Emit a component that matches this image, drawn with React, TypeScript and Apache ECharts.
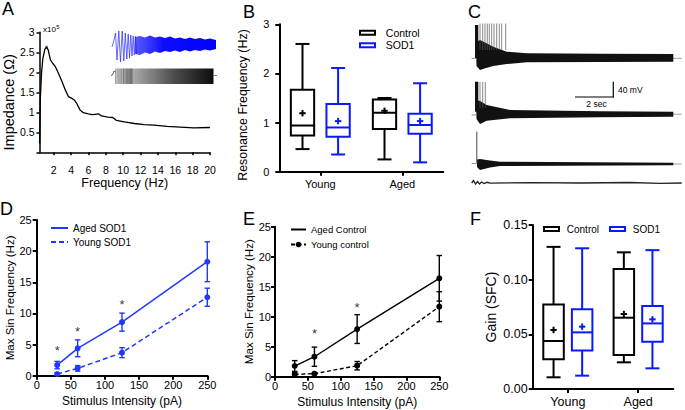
import React, { useEffect, useRef } from 'react';
import * as echarts from 'echarts';

const FONT = '"Liberation Sans", Arial, Helvetica, sans-serif';
const BLACK = '#000000';
const BLUE = '#0a1aff';
const BLUE_D = '#2038ff';

// ---------- Panel A : impedance profile (x10^5 ohm) ----------
const impedanceFreqHz = [0.37, 0.45, 0.6, 0.75, 0.98, 1.17, 1.36, 1.62, 1.89, 2.19, 2.55, 2.95, 3.33, 3.7, 4.08, 4.4, 4.65, 5.03, 5.41, 5.98, 6.4, 6.73, 7.2, 7.49, 8.25, 8.8, 9.2, 10.14, 11.28, 12.42, 13.55, 15.07, 16.58, 18.1, 19.99];
const impedanceValues = [0.22, 1.31, 2.0, 2.35, 2.58, 2.63, 2.56, 2.31, 2.22, 2.14, 1.97, 1.77, 1.56, 1.39, 1.35, 1.3, 1.22, 1.06, 0.99, 0.96, 0.94, 0.95, 0.96, 0.91, 0.88, 0.87, 0.8, 0.76, 0.72, 0.69, 0.68, 0.65, 0.63, 0.61, 0.62];
const impedancePeak = [[1.17, 2.63]];
const freqTicks = [2, 4, 6, 8, 10, 12, 14, 16, 18, 20];

// ---------- Panel B : resonance frequency (Hz) ----------
const groupCats = ['Young', 'Aged'];
// [min, q1, median, q3, max]
const resControlBox = [[0.46, 0.735, 0.94, 1.67, 2.6], [0.25, 0.87, 1.2, 1.47, 1.5]];
const resControlMean = [1.19, 1.24];
const resSod1Box = [[0.35, 0.71, 0.9, 1.38, 2.11], [0.19, 0.77, 0.95, 1.18, 1.8]];
const resSod1Mean = [1.03, 1.03];

// ---------- Panel D / E : max sin frequency (Hz) ----------
const stimulusPA = [30, 60, 125, 250];
const agedSod1Mean = [1.7, 4.4, 8.6, 18.3];
const agedSod1Err = [0.6, 1.35, 1.45, 3.2];
const youngSod1Mean = [0.27, 1.18, 3.7, 12.6];
const youngSod1Err = [0.2, 0.45, 0.8, 1.45];
const dStars = [[30, 4.66], [60, 7.7], [125, 12.06]];

const agedCtrlMean = [1.78, 3.33, 7.94, 16.4];
const agedCtrlErr = [0.9, 1.6, 2.4, 3.8];
const youngCtrlMean = [0.39, 0.5, 1.83, 11.67];
const youngCtrlErr = [0.3, 0.15, 0.7, 2.5];
const eStars = [[60, 7.8], [125, 12.1]];

// ---------- Panel F : gain (SFC) ----------
const gainControlBox = [[0.0107, 0.0271, 0.0439, 0.0774, 0.13], [0.0244, 0.0311, 0.0652, 0.1098, 0.125]];
const gainControlMean = [0.054, 0.0686];
const gainSod1Box = [[0.0122, 0.0351, 0.0518, 0.0729, 0.1287], [0.0189, 0.0433, 0.06, 0.0759, 0.127]];
const gainSod1Mean = [0.057, 0.0637];

const zip = (a: number[], b: number[]) => a.map((v, i) => [v, b[i]]);
const boxRows = (box: number[][], mean: number[]) => box.map((b, i) => [i, ...b, mean[i]]);
const errRows = (x: number[], m: number[], e: number[]) => x.map((v, i) => [v, m[i] - e[i], m[i] + e[i]]);

function boxItem(offset: number, boxW: number, capW: number, color: string) {
  return (_params: any, api: any) => {
    const i = api.value(0);
    const p = (k: number) => api.coord([i, api.value(k)]);
    const lo = p(1), q1 = p(2), md = p(3), q3 = p(4), hi = p(5), mn = p(6);
    const cx = lo[0] + offset;
    const st = { stroke: color, lineWidth: 2, fill: 'none' };
    const ln = (x1: number, y1: number, x2: number, y2: number) => ({ type: 'line', shape: { x1, y1, x2, y2 }, style: st });
    return {
      type: 'group',
      children: [
        ln(cx, hi[1], cx, q3[1]),
        ln(cx, q1[1], cx, lo[1]),
        ln(cx - capW / 2, hi[1], cx + capW / 2, hi[1]),
        ln(cx - capW / 2, lo[1], cx + capW / 2, lo[1]),
        { type: 'rect', shape: { x: cx - boxW / 2, y: q3[1], width: boxW, height: q1[1] - q3[1] }, style: st },
        ln(cx - boxW / 2, md[1], cx + boxW / 2, md[1]),
        ln(cx - 3.2, mn[1], cx + 3.2, mn[1]),
        ln(cx, mn[1] - 3.2, cx, mn[1] + 3.2),
      ],
    };
  };
}

function errItem(color: string, capW: number) {
  return (_params: any, api: any) => {
    const x = api.value(0);
    const a = api.coord([x, api.value(1)]);
    const b = api.coord([x, api.value(2)]);
    const st = { stroke: color, lineWidth: 1.4 };
    return {
      type: 'group',
      children: [
        { type: 'line', shape: { x1: a[0], y1: a[1], x2: b[0], y2: b[1] }, style: st },
        { type: 'line', shape: { x1: a[0] - capW / 2, y1: a[1], x2: a[0] + capW / 2, y2: a[1] }, style: st },
        { type: 'line', shape: { x1: b[0] - capW / 2, y1: b[1], x2: b[0] + capW / 2, y2: b[1] }, style: st },
      ],
    };
  };
}

function axis(extra: any, w: number, fs: number) {
  const base: any = {
    axisLine: { show: true, onZero: false, lineStyle: { color: BLACK, width: w } },
    axisTick: { show: true, length: 4, lineStyle: { color: BLACK, width: w } },
    axisLabel: { color: BLACK, fontSize: fs, fontFamily: FONT, showMinLabel: true, showMaxLabel: true },
    splitLine: { show: false },
    nameLocation: 'middle',
    nameTextStyle: { color: BLACK, fontFamily: FONT },
  };
  const out: any = { ...base, ...extra };
  for (const k of ['axisLine', 'axisTick', 'axisLabel', 'nameTextStyle']) {
    if (extra[k]) out[k] = { ...base[k], ...extra[k] };
  }
  return out;
}

function starSeries(data: number[][], xi: number) {
  return {
    type: 'scatter', xAxisIndex: xi, yAxisIndex: xi, data, symbol: 'circle', symbolSize: 1,
    itemStyle: { color: 'transparent' }, silent: true,
    label: { show: true, formatter: '*', position: 'inside', color: BLACK, fontSize: 13, fontFamily: FONT, offset: [0, 3.5] },
  };
}

function buildGraphics() {
  const g: any[] = [];
  const letter = (t: string, x: number, y: number) => g.push({ type: 'text', x, y, style: { text: t, fill: BLACK, fontSize: 18, fontFamily: FONT, verticalAlign: 'top' } });
  letter('A', 2, 0); letter('B', 243, 3); letter('C', 468, 3);
  letter('D', 0, 200); letter('E', 243, 210); letter('F', 470, 210);

  // x10^5 marker of panel A
  g.push({ type: 'text', x: 43, y: 29.8, style: { text: 'x10', fill: BLACK, fontSize: 8, fontFamily: FONT, verticalAlign: 'middle' } });
  g.push({ type: 'text', x: 56.3, y: 26.8, style: { text: '5', fill: BLACK, fontSize: 6, fontFamily: FONT, verticalAlign: 'middle' } });

  const line = (x1: number, y1: number, x2: number, y2: number, stroke: string, lw: number) =>
    g.push({ type: 'line', shape: { x1, y1, x2, y2 }, style: { stroke, lineWidth: lw } });

  // ---- Panel A inset: blue voltage response ----
  g.push({
    type: 'polyline', shape: { points: [[112, 47], [114, 40], [115.5, 33], [117, 60], [118.8, 31], [120.5, 62], [122.2, 31], [123.8, 61], [125.3, 33], [126.8, 59], [128.2, 34], [129.5, 58], [130.8, 35], [132, 56], [133.2, 36], [134.3, 55], [135.4, 36.5], [136.5, 54]] },
    style: { stroke: 'rgba(30,30,255,0.75)', lineWidth: 0.9, fill: 'none' },
  });
  g.push({
    type: 'polygon',
    shape: { points: [[135, 37], [140, 36], [145, 37.5], [150, 35.5], [155, 37.5], [160, 36.5], [165, 38], [170, 36.5], [175, 38.5], [180, 37.5], [185, 39], [190, 37.5], [195, 39], [200, 38], [205, 39.5], [210, 38.5], [216, 40],
      [216, 49], [210, 50.5], [205, 49.5], [200, 51], [195, 50], [190, 51.5], [185, 50], [180, 52], [175, 50.5], [170, 52], [165, 51], [160, 53], [155, 51.5], [150, 54], [145, 52.5], [140, 55], [135, 54]] },
    style: { fill: new echarts.graphic.LinearGradient(0, 0, 1, 0, [{ offset: 0, color: 'rgba(20,20,255,0.7)' }, { offset: 0.35, color: 'rgba(0,0,255,0.95)' }, { offset: 1, color: '#0000ff' }]) },
  });
  // ---- Panel A inset: black chirp stimulus ----
  g.push({
    type: 'rect', shape: { x: 115, y: 68.5, width: 98.5, height: 15.5 },
    style: { fill: new echarts.graphic.LinearGradient(0, 0, 1, 0, [{ offset: 0, color: 'rgba(0,0,0,0.12)' }, { offset: 0.2, color: 'rgba(0,0,0,0.35)' }, { offset: 0.6, color: 'rgba(0,0,0,0.7)' }, { offset: 1, color: 'rgba(0,0,0,0.95)' }]) },
  });
  [115.8, 118, 120, 121.8, 123.5, 125, 126.4, 127.7, 128.9, 130, 131, 132].forEach((x) => line(x, 68.5, x, 84, 'rgba(0,0,0,0.55)', 0.7));
  g.push({ type: 'polyline', shape: { points: [[111, 75.5], [112.5, 75], [114, 71], [115.5, 72]] }, style: { stroke: '#333', lineWidth: 0.8, fill: 'none' } });
  line(213.5, 75.5, 217, 75.5, '#555', 0.8);

  // ---- Panel C traces ----
  const env = (pts: number[][]) => g.push({ type: 'polygon', shape: { points: pts }, style: { fill: '#111' } });
  // trace 1
  line(471.7, 58.3, 476, 58.3, '#777', 0.8);
  line(673, 58.3, 681.7, 58.3, '#888', 0.8);
  env([[476, 42], [480, 40], [486, 43], [493.3, 46.7], [506.7, 51.7], [526.7, 53.3], [600, 53.7], [673.3, 54], [673.3, 61.7], [600, 62], [526.7, 62.3], [506.7, 64], [493.3, 66], [486, 68], [480, 70], [476.5, 66]]);
  g.push({ type: 'rect', shape: { x: 475, y: 25, width: 3.3, height: 33 }, style: { fill: '#111' } });
  [480, 482.7, 485, 487.3, 489.3, 491.7, 494, 496.7, 499.3, 501.7, 505.7].forEach((x) => line(x, 23.5, x, 50, '#555', 0.7));
  // trace 2
  line(471.7, 115, 476, 115, '#777', 0.8);
  line(673, 114.2, 681.7, 114.2, '#888', 0.8);
  env([[476, 100], [480, 101], [486.7, 105], [510, 110], [600, 111.3], [673.3, 111.7], [673.3, 116.7], [600, 117.3], [510, 118.3], [486.7, 120.7], [480, 124], [476.5, 119]]);
  g.push({ type: 'rect', shape: { x: 475, y: 81.7, width: 3.3, height: 30 }, style: { fill: '#111' } });
  [480, 482.7, 485.3].forEach((x) => line(x, 82, x, 108, '#555', 0.7));
  // trace 3
  line(471.7, 163.5, 476.5, 163.5, '#777', 0.8);
  line(673, 164, 681.7, 164, '#888', 0.8);
  env([[477, 159.5], [480, 159], [490, 160.5], [500, 161.7], [673.3, 162.7], [673.3, 165.3], [500, 166], [490, 167.5], [480, 170], [477, 167]]);
  line(476.8, 131.7, 476.8, 163, '#555', 1.1);
  // trace 4
  g.push({ type: 'polyline', shape: { points: [[471.7, 183], [473.5, 180.5], [475.5, 184], [477.5, 181.5], [479.5, 184], [481.5, 182], [484, 183.6], [487, 182.3], [490, 183.2], [530, 182.6], [580, 183], [630, 182.5], [660, 183.4], [681.7, 183]] }, style: { stroke: '#222', lineWidth: 1.3, fill: 'none' } });
  // scale bar
  line(613.3, 81.7, 613.3, 97.5, BLACK, 1.2);
  line(575, 97, 613.9, 97, BLACK, 1.2);
  g.push({ type: 'text', x: 618, y: 90, style: { text: '40 mV', fill: BLACK, fontSize: 8.5, fontFamily: FONT, verticalAlign: 'middle' } });
  g.push({ type: 'text', x: 596.5, y: 103.5, style: { text: '2 sec', fill: BLACK, fontSize: 8.5, fontFamily: FONT, verticalAlign: 'middle', align: 'center' } });
  return g;
}

function buildOption(): any {
  return {
    animation: false,
    backgroundColor: '#ffffff',
    textStyle: { fontFamily: FONT },
    grid: [
      { left: 37.3, top: 32.3, width: 172.7, height: 120 },
      { left: 279.3, top: 24.3, width: 164, height: 147.4 },
      { left: 36.7, top: 220, width: 170.6, height: 155.7 },
      { left: 275, top: 226.7, width: 164.3, height: 150 },
      { left: 532.7, top: 225, width: 140.6, height: 164 },
    ],
    xAxis: [
      axis({ type: 'value', gridIndex: 0, min: 0.36, max: 20, name: 'Frequency (Hz)', nameGap: 24,
        nameTextStyle: { fontSize: 12.6 }, axisLabel: { customValues: freqTicks, margin: 12 }, axisTick: { customValues: freqTicks, length: 3 } }, 1.5, 10.5),
      axis({ type: 'category', gridIndex: 1, data: groupCats, axisTick: { alignWithLabel: true }, axisLabel: { margin: 7 } }, 2, 11),
      axis({ type: 'value', gridIndex: 2, min: 0, max: 250, interval: 50, name: 'Stimulus Intensity (pA)', nameGap: 19,
        nameTextStyle: { fontSize: 12 }, axisLabel: { margin: 4 } }, 2, 11),
      axis({ type: 'value', gridIndex: 3, min: 0, max: 250, interval: 50, name: 'Stimulus Intensity (pA)', nameGap: 19,
        nameTextStyle: { fontSize: 12 }, axisLabel: { margin: 4 } }, 2, 11),
      axis({ type: 'category', gridIndex: 4, data: groupCats, axisTick: { alignWithLabel: true }, axisLabel: { margin: 6.5 } }, 2, 12.5),
    ],
    yAxis: [
      axis({ type: 'value', gridIndex: 0, min: 0, max: 3, interval: 0.5, name: 'Impedance (Ω)', nameGap: 22,
        nameTextStyle: { fontSize: 14.5, padding: [0, 20, 0, 0] },
        axisLabel: { margin: 5, formatter: (v: number) => (v === 0 ? '' : String(v)) }, axisTick: { length: 3 } }, 1.5, 10.5),
      axis({ type: 'value', gridIndex: 1, min: 0, max: 3, interval: 1, name: 'Resonance Frequency (Hz)', nameGap: 30,
        nameTextStyle: { fontSize: 12.4, padding: [0, 14, 0, 0] }, axisLabel: { margin: 10 } }, 2, 11),
      axis({ type: 'value', gridIndex: 2, min: 0, max: 25, interval: 5, name: 'Max Sin Frequency (Hz)', nameGap: 19.5,
        nameTextStyle: { fontSize: 11.6 }, axisLabel: { margin: 5 } }, 2, 11),
      axis({ type: 'value', gridIndex: 3, min: 0, max: 25, interval: 5, name: 'Max Sin Frequency (Hz)', nameGap: 16,
        nameTextStyle: { fontSize: 11.6 }, axisLabel: { margin: 4 } }, 2, 11),
      axis({ type: 'value', gridIndex: 4, min: 0, max: 0.15, interval: 0.05, name: 'Gain (SFC)', nameGap: 35,
        nameTextStyle: { fontSize: 14 }, axisLabel: { margin: 5, formatter: (v: number) => v.toFixed(2) } }, 2, 12.5),
    ],
    legend: [
      { left: 359, top: 27.3, orient: 'vertical', itemWidth: 15, itemHeight: 4, itemGap: 1.4, padding: 0, selectedMode: false,
        formatter: '  {name}', textStyle: { fontSize: 10.5, fontFamily: FONT, color: BLACK },
        data: [
          { name: 'Control', icon: 'rect', itemStyle: { color: '#fff', borderColor: BLACK, borderWidth: 2 } },
          { name: 'SOD1', icon: 'rect', itemStyle: { color: '#fff', borderColor: BLUE, borderWidth: 2 } },
        ] },
      { left: 543, top: 224, orient: 'horizontal', itemWidth: 15, itemHeight: 4, itemGap: 10, padding: 0, selectedMode: false,
        formatter: ' {name}', textStyle: { fontSize: 10, fontFamily: FONT, color: BLACK },
        data: [
          { name: 'Control', icon: 'rect', itemStyle: { color: '#fff', borderColor: BLACK, borderWidth: 2 } },
          { name: 'SOD1', icon: 'rect', itemStyle: { color: '#fff', borderColor: BLUE, borderWidth: 2 } },
        ] },
      { left: 50, top: 223, orient: 'vertical', itemWidth: 17, itemHeight: 10, itemGap: 4, padding: 0, selectedMode: false,
        textStyle: { fontSize: 10, fontFamily: FONT, color: BLACK },
        data: [
          { name: 'Aged SOD1', itemStyle: { opacity: 0 } },
          { name: 'Young SOD1', itemStyle: { opacity: 0 } },
        ] },
      { left: 290, top: 224.5, orient: 'vertical', itemWidth: 15, itemHeight: 7, itemGap: 5, padding: 0, selectedMode: false,
        textStyle: { fontSize: 9.5, fontFamily: FONT, color: BLACK },
        data: [
          { name: 'Aged Control', itemStyle: { opacity: 0 } },
          { name: 'Young control' },
        ] },
    ],
    series: [
      // A
      { type: 'line', name: 'Impedance', xAxisIndex: 0, yAxisIndex: 0, data: zip(impedanceFreqHz, impedanceValues),
        symbol: 'none', lineStyle: { color: BLACK, width: 1.3 }, itemStyle: { color: BLACK } },
      { type: 'scatter', name: 'Peak', xAxisIndex: 0, yAxisIndex: 0, data: impedancePeak, symbolSize: 3, itemStyle: { color: '#3a6bd0' } },
      // B
      { type: 'custom', name: 'Control', xAxisIndex: 1, yAxisIndex: 1, data: boxRows(resControlBox, resControlMean),
        encode: { x: 0, y: [1, 2, 3, 4, 5, 6] }, renderItem: boxItem(-17.8, 23.3, 14, BLACK), itemStyle: { color: BLACK } },
      { type: 'custom', name: 'SOD1', xAxisIndex: 1, yAxisIndex: 1, data: boxRows(resSod1Box, resSod1Mean),
        encode: { x: 0, y: [1, 2, 3, 4, 5, 6] }, renderItem: boxItem(17.8, 23.3, 14, BLUE), itemStyle: { color: BLUE } },
      // D
      { type: 'line', name: 'Aged SOD1', xAxisIndex: 2, yAxisIndex: 2, data: zip(stimulusPA, agedSod1Mean),
        symbol: 'circle', symbolSize: 6, lineStyle: { color: BLUE_D, width: 1.5 }, itemStyle: { color: BLUE_D } },
      { type: 'line', name: 'Young SOD1', xAxisIndex: 2, yAxisIndex: 2, data: zip(stimulusPA, youngSod1Mean),
        symbol: 'circle', symbolSize: 6, lineStyle: { color: BLUE_D, width: 1.5, type: [5, 3] }, itemStyle: { color: BLUE_D } },
      { type: 'custom', name: 'Aged SOD1 SEM', xAxisIndex: 2, yAxisIndex: 2, data: errRows(stimulusPA, agedSod1Mean, agedSod1Err),
        encode: { x: 0, y: [1, 2] }, renderItem: errItem(BLUE_D, 5.5) },
      { type: 'custom', name: 'Young SOD1 SEM', xAxisIndex: 2, yAxisIndex: 2, data: errRows(stimulusPA, youngSod1Mean, youngSod1Err),
        encode: { x: 0, y: [1, 2] }, renderItem: errItem(BLUE_D, 5.5) },
      starSeries(dStars, 2),
      // E
      { type: 'line', name: 'Aged Control', xAxisIndex: 3, yAxisIndex: 3, data: zip(stimulusPA, agedCtrlMean),
        symbol: 'circle', symbolSize: 6, lineStyle: { color: BLACK, width: 1.4 }, itemStyle: { color: BLACK } },
      { type: 'line', name: 'Young control', xAxisIndex: 3, yAxisIndex: 3, data: zip(stimulusPA, youngCtrlMean),
        symbol: 'circle', symbolSize: 6, lineStyle: { color: BLACK, width: 1.4, type: [4, 2.5] }, itemStyle: { color: BLACK } },
      { type: 'custom', name: 'Aged Control SEM', xAxisIndex: 3, yAxisIndex: 3, data: errRows(stimulusPA, agedCtrlMean, agedCtrlErr),
        encode: { x: 0, y: [1, 2] }, renderItem: errItem(BLACK, 5.5) },
      { type: 'custom', name: 'Young control SEM', xAxisIndex: 3, yAxisIndex: 3, data: errRows(stimulusPA, youngCtrlMean, youngCtrlErr),
        encode: { x: 0, y: [1, 2] }, renderItem: errItem(BLACK, 5.5) },
      starSeries(eStars, 3),
      // F
      { type: 'custom', name: 'Control', xAxisIndex: 4, yAxisIndex: 4, data: boxRows(gainControlBox, gainControlMean),
        encode: { x: 0, y: [1, 2, 3, 4, 5, 6] }, renderItem: boxItem(-14.3, 20.5, 14, BLACK), itemStyle: { color: BLACK } },
      { type: 'custom', name: 'SOD1', xAxisIndex: 4, yAxisIndex: 4, data: boxRows(gainSod1Box, gainSod1Mean),
        encode: { x: 0, y: [1, 2, 3, 4, 5, 6] }, renderItem: boxItem(14.3, 20.5, 14, BLUE), itemStyle: { color: BLUE } },
    ],
    graphic: buildGraphics(),
  };
}

export default function App() {
  const ref = useRef<HTMLDivElement>(null);
  useEffect(() => {
    document.body.style.margin = '0';
    if (!ref.current) return;
    const chart = echarts.init(ref.current, undefined, { renderer: 'svg' });
    chart.setOption(buildOption());
    return () => chart.dispose();
  }, []);
  return <div ref={ref} style={{ width: 685, height: 410 }} />;
}
